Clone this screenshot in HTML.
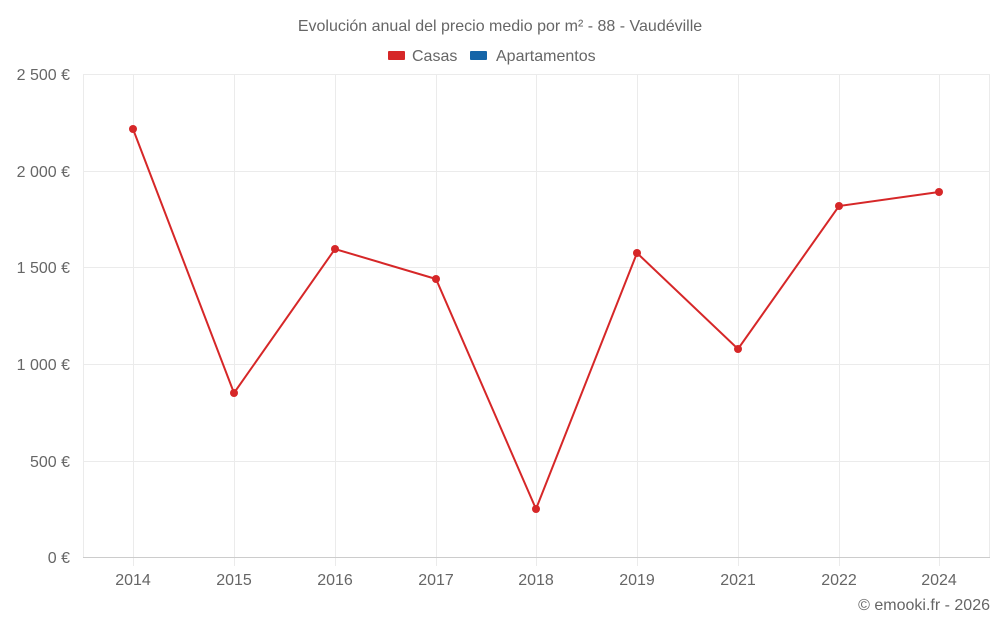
<!DOCTYPE html>
<html><head><meta charset="utf-8"><style>
body{margin:0;background:#fff;}
svg text{font-family:"Liberation Sans",sans-serif;}
</style></head><body>
<svg width="1000" height="625" xmlns="http://www.w3.org/2000/svg">
<rect width="1000" height="625" fill="#fff"/>
<text x="500" y="31" text-anchor="middle" font-size="16" fill="#666">Evolución anual del precio medio por m² - 88 - Vaudéville</text>
<rect x="388" y="51" width="17" height="9" fill="#d62728" rx="1"/>
<text x="412" y="61" font-size="16" fill="#666">Casas</text>
<rect x="470" y="51" width="17" height="9" fill="#1565a8" rx="1"/>
<text x="496" y="61" font-size="16" fill="#666">Apartamentos</text>
<g stroke="#ebebeb" stroke-width="1">
<line x1="83" y1="74.5" x2="990" y2="74.5"/>
<line x1="83" y1="171.5" x2="990" y2="171.5"/>
<line x1="83" y1="267.5" x2="990" y2="267.5"/>
<line x1="83" y1="364.5" x2="990" y2="364.5"/>
<line x1="83" y1="461.5" x2="990" y2="461.5"/>
<line x1="83.5" y1="74" x2="83.5" y2="557"/>
<line x1="133.5" y1="74" x2="133.5" y2="566"/>
<line x1="234.5" y1="74" x2="234.5" y2="566"/>
<line x1="335.5" y1="74" x2="335.5" y2="566"/>
<line x1="436.5" y1="74" x2="436.5" y2="566"/>
<line x1="536.5" y1="74" x2="536.5" y2="566"/>
<line x1="637.5" y1="74" x2="637.5" y2="566"/>
<line x1="738.5" y1="74" x2="738.5" y2="566"/>
<line x1="839.5" y1="74" x2="839.5" y2="566"/>
<line x1="939.5" y1="74" x2="939.5" y2="566"/>
<line x1="989.5" y1="74" x2="989.5" y2="557"/>
</g>
<line x1="83" y1="557.5" x2="990" y2="557.5" stroke="#ccc"/>
<g font-size="16" fill="#666" text-anchor="end">
<text x="70" y="80">2 500 €</text>
<text x="70" y="177">2 000 €</text>
<text x="70" y="273">1 500 €</text>
<text x="70" y="370">1 000 €</text>
<text x="70" y="467">500 €</text>
<text x="70" y="563">0 €</text>
</g>
<g font-size="16" fill="#666" text-anchor="middle">
<text x="133" y="585">2014</text><text x="234" y="585">2015</text><text x="335" y="585">2016</text>
<text x="436" y="585">2017</text><text x="536" y="585">2018</text><text x="637" y="585">2019</text>
<text x="738" y="585">2021</text><text x="839" y="585">2022</text><text x="939" y="585">2024</text>
</g>
<text x="990" y="610" text-anchor="end" font-size="16" fill="#666">© emooki.fr - 2026</text>
<polyline fill="none" stroke="#d62728" stroke-width="2" points="133,129 234,393 335,249 436,279 536,509 637,253 738,349 839,206 939,192"/>
<g fill="#d62728">
<circle cx="133" cy="129" r="4"/><circle cx="234" cy="393" r="4"/><circle cx="335" cy="249" r="4"/>
<circle cx="436" cy="279" r="4"/><circle cx="536" cy="509" r="4"/><circle cx="637" cy="253" r="4"/>
<circle cx="738" cy="349" r="4"/><circle cx="839" cy="206" r="4"/><circle cx="939" cy="192" r="4"/>
</g>
</svg>
</body></html>
